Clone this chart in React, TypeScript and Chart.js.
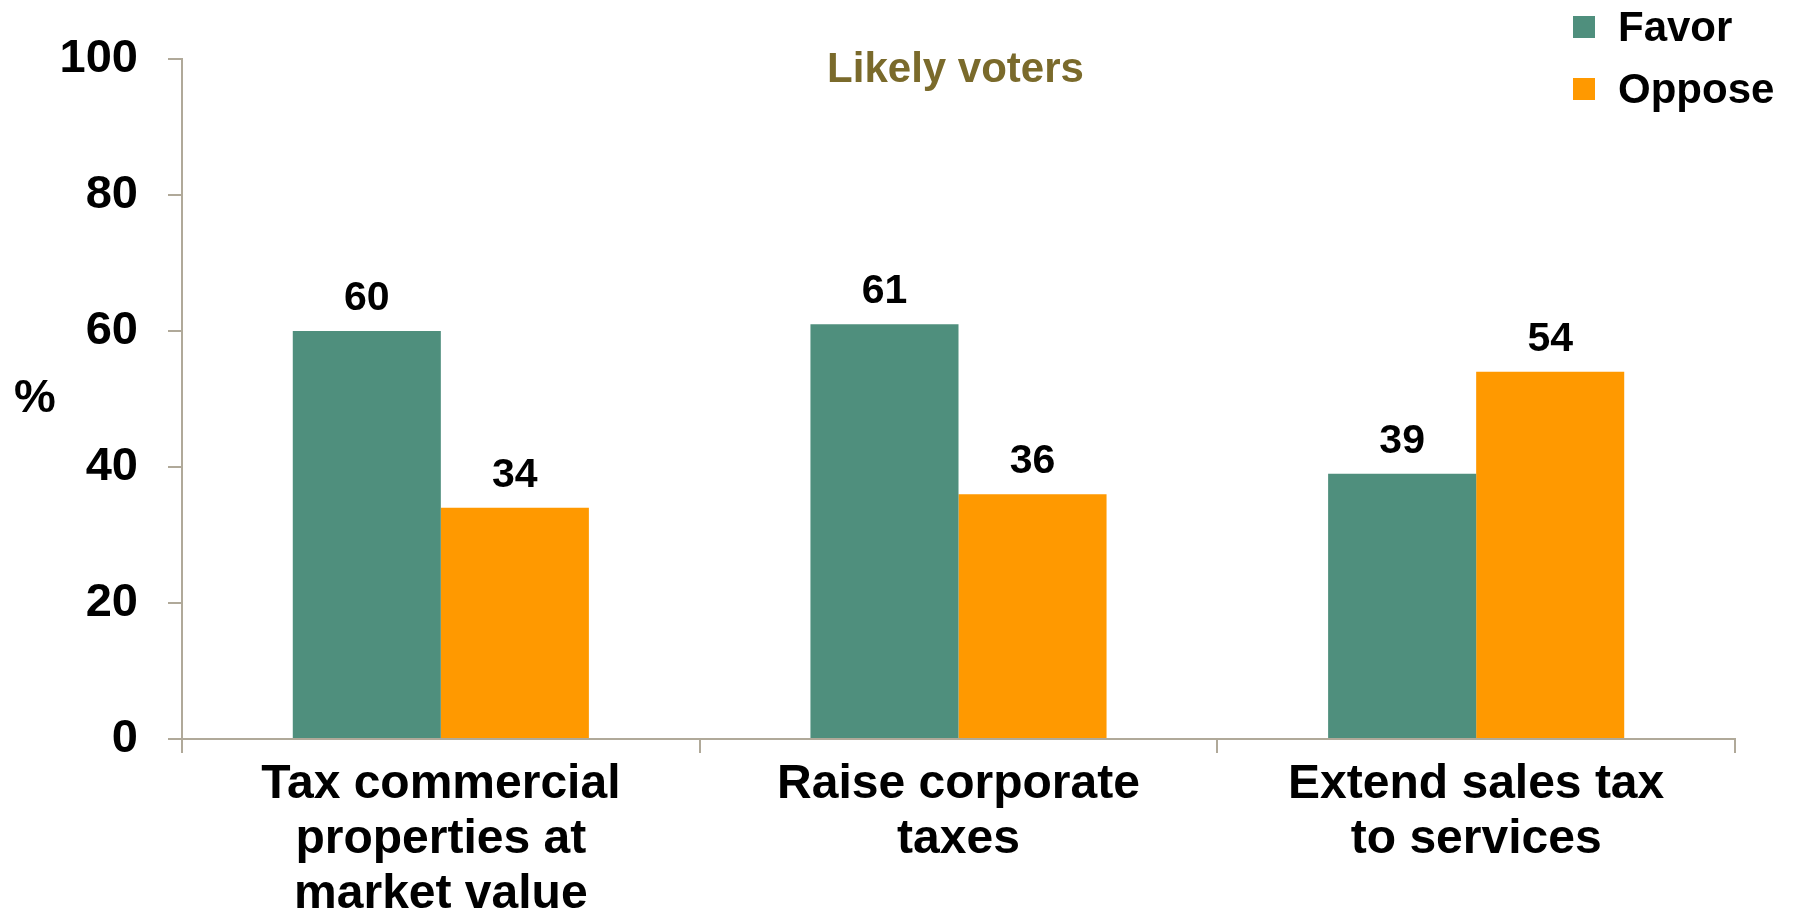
import React, { useEffect, useRef } from "react";
import { Chart, registerables } from "chart.js";

Chart.register(...registerables);

const categories: string[][] = [
  ["Tax commercial", "properties at", "market value"],
  ["Raise corporate", "taxes"],
  ["Extend sales tax", "to services"],
];
const favorValues = [60, 61, 39];
const opposeValues = [34, 36, 54];
const seriesNames = ["Favor", "Oppose"];
const yTicks = [0, 20, 40, 60, 80, 100];
const chartTitle = "Likely voters";
const yAxisTitle = "%";

const GREEN = "#4F8F7D";
const ORANGE = "#FF9900";
const AXIS = "#B0A999";
const FONT = "'Liberation Sans', Arial, sans-serif";

const overlayPlugin = {
  id: "overlay",
  afterDatasetsDraw(chart: any) {
    const ctx = chart.ctx;
    const area = chart.chartArea;
    ctx.save();
    // data labels
    ctx.fillStyle = "#000";
    ctx.font = `bold 41px ${FONT}`;
    ctx.textAlign = "center";
    ctx.textBaseline = "alphabetic";
    chart.data.datasets.forEach((ds: any, di: number) => {
      const meta = chart.getDatasetMeta(di);
      meta.data.forEach((bar: any, i: number) => {
        ctx.fillText(String(ds.data[i]), bar.x, bar.y - 21);
      });
    });
    // title inside plot
    ctx.fillStyle = "#7A6A2B";
    ctx.font = `bold 42px ${FONT}`;
    ctx.fillText(chartTitle, (area.left + area.right) / 2 - 3, 82);
    // y axis title
    ctx.fillStyle = "#000";
    ctx.font = `bold 47px ${FONT}`;
    ctx.textBaseline = "middle";
    ctx.fillText(yAxisTitle, 35, (area.top + area.bottom) / 2);
    // legend
    ctx.font = `bold 42px ${FONT}`;
    ctx.textAlign = "left";
    chart.data.datasets.forEach((ds: any, di: number) => {
      const cy = 27 + di * 62;
      ctx.fillStyle = ds.backgroundColor;
      ctx.fillRect(1573, cy - 11, 22, 22);
      ctx.fillStyle = "#000";
      ctx.textBaseline = "alphabetic";
      ctx.fillText(ds.label, 1618, cy + 14);
    });
    ctx.restore();
  },
};

export default function App() {
  const ref = useRef<HTMLCanvasElement>(null);
  useEffect(() => {
    if (!ref.current) return;
    const chart = new Chart(ref.current, {
      type: "bar",
      data: {
        labels: categories,
        datasets: [
          {
            label: seriesNames[0],
            data: favorValues,
            backgroundColor: GREEN,
            barPercentage: 1,
            categoryPercentage: 0.572,
          },
          {
            label: seriesNames[1],
            data: opposeValues,
            backgroundColor: ORANGE,
            barPercentage: 1,
            categoryPercentage: 0.572,
          },
        ],
      },
      options: {
        animation: false,
        responsive: true,
        maintainAspectRatio: false,
        layout: { padding: { left: 0, right: 59, top: 59, bottom: 0 } },
        plugins: {
          legend: { display: false },
          title: { display: false },
          tooltip: { enabled: false },
        },
        scales: {
          x: {
            grid: {
              display: true,
              drawOnChartArea: false,
              drawTicks: true,
              tickLength: 14,
              color: AXIS,
              lineWidth: 2,
            },
            border: { display: true, color: AXIS, width: 2 },
            ticks: {
              color: "#000",
              font: { family: FONT, size: 48, weight: "bold", lineHeight: 1.146 },
              padding: 4,
              maxRotation: 0,
              autoSkip: false,
            },
            afterFit(scale: any) {
              scale.height = 172;
            },
          },
          y: {
            min: 0,
            max: 100,
            afterBuildTicks(scale: any) {
              scale.ticks = yTicks.map((v) => ({ value: v }));
            },
            grid: {
              display: true,
              drawOnChartArea: false,
              drawTicks: true,
              tickLength: 14,
              color: AXIS,
              lineWidth: 2,
            },
            border: { display: true, color: AXIS, width: 2 },
            ticks: {
              color: "#000",
              font: { family: FONT, size: 47, weight: "bold" },
              padding: 30,
            },
            afterFit(scale: any) {
              scale.width = 182;
            },
          },
        },
      },
      plugins: [overlayPlugin],
    });
    return () => chart.destroy();
  }, []);
  return (
    <div style={{ position: "fixed", left: 0, top: 0, width: "1794px", height: "911px", background: "#fff" }}>
      <canvas ref={ref} />
    </div>
  );
}
